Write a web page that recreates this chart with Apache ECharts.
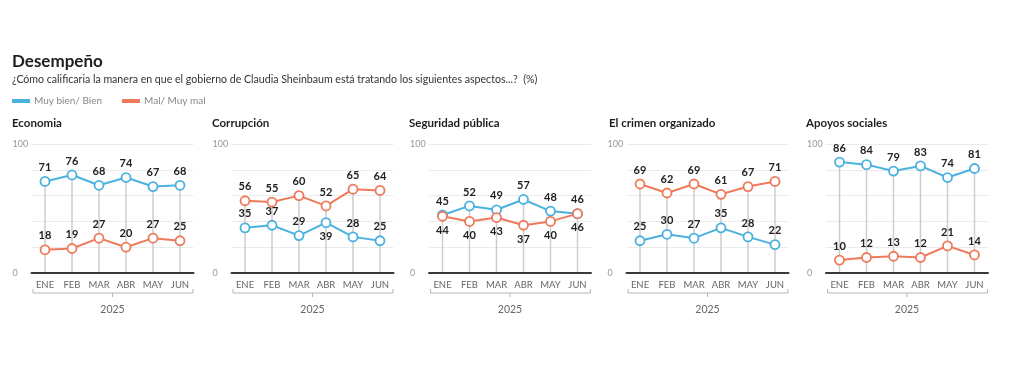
<!DOCTYPE html>
<html><head><meta charset="utf-8">
<script src="https://cdn.jsdelivr.net/npm/echarts@6/dist/echarts.min.js"></script>
<style>html,body{margin:0;padding:0;background:#fff}#c{width:1024px;height:382px}</style>
</head><body><div id="c"></div>
<script>
var months = ['ENE','FEB','MAR','ABR','MAY','JUN'];
var yearLabel = '2025';
var panelTitles = ['Economia','Corrupción','Seguridad pública','El crimen organizado','Apoyos sociales'];
var good = [
  [71,76,68,74,67,68],
  [35,37,29,39,28,25],
  [45,52,49,57,48,46],
  [25,30,27,35,28,22],
  [86,84,79,83,74,81]
];
var bad = [
  [18,19,27,20,27,25],
  [56,55,60,52,65,64],
  [44,40,43,37,40,46],
  [69,62,69,61,67,71],
  [10,12,13,12,21,14]
];
var goodName = 'Muy bien/ Bien', badName = 'Mal/ Muy mal';

var BLUE = '#4bb1df', RED = '#ee7a5c';
var FONT = 'Lato, "Open Sans", sans-serif';
var gridLefts = [31.5, 231.5, 429, 626.5, 826];
var titleLefts = [12, 212, 409, 609, 806];
var gridW = 162, gridTop = 144, gridBottom = 109;
// label positions (style): which labels sit below their point
var goodBelow = [[],[3],[],[],[]];
var badBelow = [[],[],[0,1,2,3,4,5],[],[]];

var grids=[], xAxes=[], yAxes=[], series=[], titles=[], graphics=[];
titles.push({text:'Desempeño', left:12, top:53, padding:0, textStyle:{fontFamily:FONT,fontSize:17,fontWeight:'bold',color:'#1e1e1e'}});
titles.push({text:'¿Cómo calificaria la manera en que el gobierno de Claudia Sheinbaum está tratando los siguientes aspectos...?  (%)', left:12, top:74, padding:0, textStyle:{fontFamily:FONT,fontSize:10.6,fontWeight:'normal',color:'#333'}});

function mkData(vals, below){
  return vals.map(function(v,i){
    return below.indexOf(i)>=0 ? {value:v,label:{position:'bottom'}} : v;
  });
}

for (var p=0;p<5;p++){
  var L = gridLefts[p];
  titles.push({text:panelTitles[p], left:titleLefts[p], top:117, padding:0, textStyle:{fontFamily:FONT,fontSize:11.5,fontWeight:'bold',color:'#1e1e1e'}});
  grids.push({left:L, width:gridW, top:gridTop, bottom:gridBottom});
  xAxes.push({type:'category', gridIndex:p, data:months, boundaryGap:true,
    axisLine:{show:true,lineStyle:{color:'#3a3a3a',width:2}}, axisTick:{show:false},
    axisLabel:{interval:0,fontFamily:FONT,fontSize:9.5,color:'#666',margin:7}, z:5});
  yAxes.push({type:'value', gridIndex:p, min:0, max:100, interval:20,
    axisLine:{show:false}, axisTick:{show:false},
    axisLabel:{align:'left',margin:19,fontFamily:FONT,fontSize:9,color:'#9a9a9a',
      formatter:function(v){return (v===0||v===100)?String(v):'';}},
    splitLine:{show:true,lineStyle:{color:'#ebebeb',width:1}}});
  var mx = good[p].map(function(v,i){return Math.max(v,bad[p][i]);});
  series.push({type:'bar', name:'drop'+p, xAxisIndex:p, yAxisIndex:p, data:mx, barWidth:1.5,
    itemStyle:{color:'#cdcdcd'}, silent:true, z:1});
  var lbl = {show:true, position:'top', distance:3, fontFamily:FONT, fontSize:11, fontWeight:'bold', color:'#222'};
  series.push({type:'line', name:goodName, xAxisIndex:p, yAxisIndex:p, data:mkData(good[p],goodBelow[p]),
    symbol:'circle', symbolSize:9, showAllSymbol:true, lineStyle:{color:BLUE,width:2},
    itemStyle:{color:'#fff',borderColor:BLUE,borderWidth:1.8}, color:BLUE, label:lbl, z:3});
  series.push({type:'line', name:badName, xAxisIndex:p, yAxisIndex:p, data:mkData(bad[p],badBelow[p]),
    symbol:'circle', symbolSize:9, showAllSymbol:true, lineStyle:{color:RED,width:2},
    itemStyle:{color:'#fff',borderColor:RED,borderWidth:1.8}, color:RED, label:lbl, z:3});
  // bracket under months
  var x0 = L+1.5, x1 = L+gridW-0.5, xm = L+gridW/2, yb = 293;
  graphics.push({type:'polyline', shape:{points:[[x0,289],[x0,yb],[x1,yb],[x1,289]]}, style:{stroke:'#b5b5b5',lineWidth:1,fill:null}, silent:true});
  graphics.push({type:'line', shape:{x1:xm,y1:yb,x2:xm,y2:297}, style:{stroke:'#b5b5b5',lineWidth:1}, silent:true});
  graphics.push({type:'text', x:xm, y:310, style:{text:yearLabel, fontFamily:FONT, fontSize:10.5, fill:'#666', textAlign:'center', textVerticalAlign:'middle'}, silent:true});
}

var chart = echarts.init(document.getElementById('c'), null, {renderer:'canvas'});
chart.setOption({
  backgroundColor:'#fff',
  animation:false,
  title:titles,
  legend:{data:[{name:goodName,itemStyle:{color:BLUE}},{name:badName,itemStyle:{color:RED}}], left:12, top:96, padding:0, icon:'rect', itemWidth:16, itemHeight:2, itemGap:20,
    textStyle:{fontFamily:FONT,fontSize:10,color:'#888'}, selectedMode:false},
  grid:grids, xAxis:xAxes, yAxis:yAxes, series:series, graphic:graphics
});
</script></body></html>
